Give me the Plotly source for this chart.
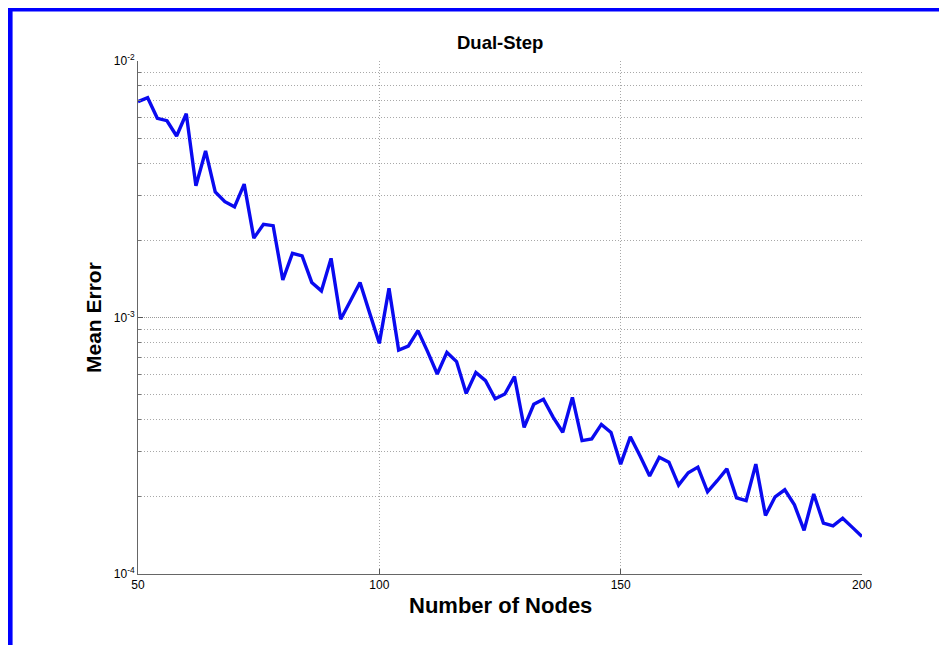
import plotly.graph_objects as go

nodes = list(range(50, 201, 2))
mean_error = [
    6.94e-3, 7.19e-3, 5.98e-3, 5.85e-3, 5.10e-3, 6.23e-3, 3.26e-3, 4.46e-3,
    3.09e-3, 2.83e-3, 2.70e-3, 3.31e-3, 2.04e-3, 2.31e-3, 2.28e-3, 1.40e-3,
    1.78e-3, 1.74e-3, 1.37e-3, 1.27e-3, 1.70e-3, 9.84e-4, 1.16e-3, 1.37e-3,
    1.04e-3, 7.93e-4, 1.30e-3, 7.47e-4, 7.74e-4, 8.89e-4, 7.36e-4, 6.02e-4,
    7.31e-4, 6.73e-4, 5.06e-4, 6.10e-4, 5.67e-4, 4.82e-4, 5.03e-4, 5.88e-4,
    3.73e-4, 4.59e-4, 4.80e-4, 4.09e-4, 3.57e-4, 4.88e-4, 3.31e-4, 3.36e-4,
    3.83e-4, 3.56e-4, 2.68e-4, 3.43e-4, 2.89e-4, 2.41e-4, 2.85e-4, 2.73e-4,
    2.22e-4, 2.48e-4, 2.61e-4, 2.09e-4, 2.31e-4, 2.57e-4, 1.98e-4, 1.93e-4,
    2.68e-4, 1.69e-4, 2.00e-4, 2.13e-4, 1.86e-4, 1.48e-4, 2.05e-4, 1.58e-4,
    1.54e-4, 1.65e-4, 1.52e-4, 1.40e-4,
]

x_ticks = [50, 100, 150, 200]
y_major = [1e-4, 1e-3, 1e-2]
y_major_text = ["10<sup>-4</sup>", "10<sup>-3</sup>", "10<sup>-2</sup>"]
y_minor = [m * 10.0 ** e for e in (-4, -3) for m in range(2, 10)]

title_text = "Dual-Step"
x_title = "Number of Nodes"
y_title = "Mean Error"

FONT = "Arial, Liberation Sans, Helvetica, sans-serif"
GRID = "#a8a8a8"
DOTS = "1px,2px"

# plot area in page pixels (page has an 8px body offset)
PL, PR, PT, PB = 137.5, 862.0, 61.0, 574.0
PW, PH = PR - PL, PB - PT

fig = go.Figure()
fig.add_trace(go.Scatter(
    x=nodes, y=mean_error, mode="lines",
    line=dict(color="#0a0af0", width=3.4),
    showlegend=False, hoverinfo="x+y",
))

fig.update_layout(
    width=939, height=637,
    margin=dict(l=PL - 8, r=947 - PR, t=PT - 8, b=645 - PB),
    paper_bgcolor="white", plot_bgcolor="white",
    font=dict(family=FONT, color="black", size=12),
    showlegend=False,
)

fig.update_xaxes(
    range=[50, 200], tickmode="array", tickvals=x_ticks,
    ticks="inside", ticklen=5, tickcolor="#555",
    showline=True, linecolor="#666", linewidth=1, mirror=False,
    showgrid=True, gridcolor=GRID, griddash=DOTS, gridwidth=1,
    zeroline=False, tickfont=dict(size=12, family=FONT),
)
fig.update_yaxes(
    type="log", range=[-4, -2], tickmode="array",
    tickvals=y_major, ticktext=y_major_text,
    ticks="inside", ticklen=5, tickcolor="#555",
    showline=True, linecolor="#666", linewidth=1, mirror=False,
    showgrid=True, gridcolor="#999999", griddash="1px,1px", gridwidth=1,
    zeroline=False, tickfont=dict(size=12, family=FONT),
    minor=dict(tickmode="array", tickvals=y_minor, ticks="inside", ticklen=3,
               tickcolor="#777", showgrid=True, gridcolor=GRID,
               griddash=DOTS, gridwidth=1),
)


def px_x(p):
    return (p - PL) / PW


def px_y(p):
    return (PB - p) / PH


# Title and axis titles
fig.add_annotation(text=f"<b>{title_text}</b>", xref="paper", yref="paper",
                   x=0.5, y=px_y(55), xanchor="center", yanchor="bottom",
                   showarrow=False, font=dict(size=18.5, family=FONT))
fig.add_annotation(text=f"<b>{x_title}</b>", xref="paper", yref="paper",
                   x=0.5, y=px_y(605), xanchor="center", yanchor="middle",
                   showarrow=False, font=dict(size=22, family=FONT))
fig.add_annotation(text=f"<b>{y_title}</b>", xref="paper", yref="paper",
                   x=px_x(93), y=0.5, xanchor="center", yanchor="middle",
                   textangle=-90, showarrow=False, font=dict(size=21, family=FONT))

# Blue frame (top and left edges)
fig.add_shape(type="rect", xref="paper", yref="paper",
              x0=px_x(8), x1=px_x(950), y0=px_y(11.5), y1=px_y(7),
              fillcolor="#0000ff", line=dict(width=0), layer="above")
fig.add_shape(type="rect", xref="paper", yref="paper",
              x0=px_x(7), x1=px_x(12), y0=px_y(650), y1=px_y(7),
              fillcolor="#0000ff", line=dict(width=0), layer="above")

fig.write_html("out.html")
